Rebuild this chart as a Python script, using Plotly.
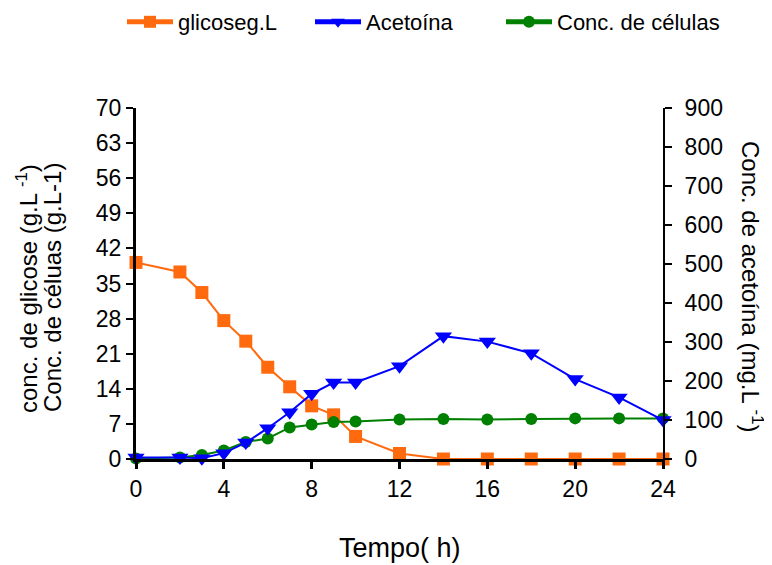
import plotly.graph_objects as go

tempo = [0, 2, 3, 4, 5, 6, 7, 8, 9, 10, 12, 14, 16, 18, 20, 22, 24]
glicose = [39.2, 37.3, 33.2, 27.6, 23.5, 18.3, 14.4, 10.6, 8.8, 4.5, 1.1, 0, 0, 0, 0, 0, 0]
acetoina = [4, 4, 2, 15, 42, 79, 120, 167, 196, 196, 238, 315, 301, 271, 205, 158, 100]
celulas = [0.1, 0.3, 0.8, 1.7, 3.4, 4.1, 6.3, 6.9, 7.4, 7.5, 7.9, 8.0, 7.9, 8.0, 8.1, 8.1, 8.1]

x_ticks = [0, 4, 8, 12, 16, 20, 24]
y1_ticks = [0, 7, 14, 21, 28, 35, 42, 49, 56, 63, 70]
y2_ticks = [0, 100, 200, 300, 400, 500, 600, 700, 800, 900]

FONT = "Liberation Sans, Arial, sans-serif"

fig = go.Figure()
fig.add_trace(go.Scatter(x=tempo, y=glicose, name="glicoseg.L", mode="lines+markers",
                         line=dict(color="#FF6A0F", width=2),
                         marker=dict(symbol="square", size=13, color="#FF6A0F"),
                         cliponaxis=False, legend="legend"))
fig.add_trace(go.Scatter(x=tempo, y=acetoina, name="Acetoína", mode="lines+markers", yaxis="y2",
                         line=dict(color="#0000FF", width=2),
                         marker=dict(symbol="triangle-down", size=15, color="#0000FF"),
                         cliponaxis=False, legend="legend2"))
fig.add_trace(go.Scatter(x=tempo, y=celulas, name="Conc. de células", mode="lines+markers",
                         line=dict(color="#008000", width=2),
                         marker=dict(symbol="circle", size=12, color="#008000"),
                         cliponaxis=False, legend="legend3"))

axis_font = dict(family=FONT, size=23, color="black")


def px_x(px):
    return (px - 136) / 527


def px_y(py):
    return (459 - py) / 351


def legend_at(left_px):
    return dict(orientation="h", x=px_x(left_px), xanchor="left", y=px_y(22), yanchor="middle",
                font=dict(family=FONT, size=22, color="black"),
                itemwidth=46, itemsizing="constant", bgcolor="rgba(0,0,0,0)")


# page body has an 8px margin; the figure is sized so the plot area lands at 136..663 x 108..459
fig.update_layout(
    width=764, height=557,
    margin=dict(l=128, r=109, t=100, b=106, autoexpand=False),
    paper_bgcolor="white", plot_bgcolor="white",
    font=dict(family=FONT, color="black"),
    xaxis=dict(range=[0, 24], tickvals=x_ticks, showgrid=False, zeroline=False,
               showline=True, linecolor="black", linewidth=3,
               ticks="outside", ticklen=7, tickwidth=3, tickcolor="black",
               tickfont=axis_font),
    yaxis=dict(range=[0, 70], tickvals=y1_ticks, showgrid=False, zeroline=False,
               showline=True, linecolor="black", linewidth=3,
               ticks="outside", ticklen=7, tickwidth=2, tickcolor="black",
               tickfont=axis_font),
    yaxis2=dict(range=[0, 900], tickvals=y2_ticks, overlaying="y", side="right",
                showgrid=False, zeroline=False,
                showline=True, linecolor="black", linewidth=2,
                ticks="outside", ticklen=7, tickwidth=2, tickcolor="black",
                ticklabelstandoff=8, tickfont=axis_font),
    legend=legend_at(122),
    legend2=legend_at(310),
    legend3=legend_at(501),
    showlegend=True,
)

title_font = dict(family=FONT, size=24, color="black")
fig.add_annotation(text="conc. de glicose (g.L <sup>-1</sup>)",
                   xref="paper", yref="paper", x=px_x(27), y=px_y(289), xanchor="center", yanchor="middle",
                   textangle=-90, showarrow=False, font=title_font)
fig.add_annotation(text="Conc. de céluas (g.L-1)",
                   xref="paper", yref="paper", x=px_x(52), y=px_y(288), xanchor="center", yanchor="middle",
                   textangle=-90, showarrow=False, font=title_font)
fig.add_annotation(text="Conc. de acetoína (mg.L <sup>-1</sup>)",
                   xref="paper", yref="paper", x=px_x(752), y=px_y(287), xanchor="center", yanchor="middle",
                   textangle=90, showarrow=False, font=title_font)
fig.add_annotation(text="Tempo( h)",
                   xref="paper", yref="paper", x=px_x(400), y=px_y(548), xanchor="center", yanchor="middle",
                   showarrow=False, font=dict(family=FONT, size=27, color="black"))

fig.write_html("out.html")
